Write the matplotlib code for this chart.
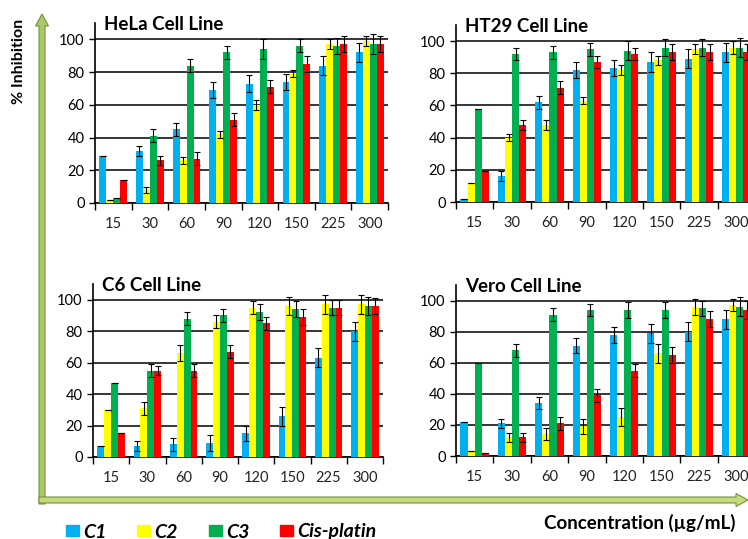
import numpy as np
import matplotlib.pyplot as plt
from matplotlib.patches import Patch, FancyArrow

plt.rcParams['font.family'] = ['Lato', 'DejaVu Sans']

conc = ["15", "30", "60", "90", "120", "150", "225", "300"]
series = ["C1", "C2", "C3", "Cis-platin"]
colors = ["#00B0F0", "#FFFF00", "#00B050", "#FF0000"]

# % inhibition, one list per compound (order: C1, C2, C3, Cis-platin)
hela = [[29, 32, 45, 69, 73, 74, 84, 92],
        [2, 8, 26, 42, 60, 79, 97, 99],
        [3, 41, 84, 92, 94, 96, 96, 97],
        [14, 26, 27, 51, 71, 85, 97, 97]]
hela_err = [[0, 3, 4, 5, 5, 5, 6, 6],
            [0, 2, 2, 2, 3, 2, 3, 3],
            [0, 4, 4, 4, 6, 4, 5, 6],
            [0, 3, 4, 4, 4, 5, 5, 5]]

ht29 = [[2, 16, 62, 82, 83, 87, 89, 93],
        [12, 40, 48, 63, 82, 88, 95, 96],
        [58, 92, 93, 95, 94, 96, 96, 96],
        [19, 48, 71, 87, 92, 93, 93, 93]]
ht29_err = [[0, 3, 4, 5, 5, 6, 6, 6],
            [0, 2, 3, 2, 3, 3, 3, 4],
            [0, 4, 4, 4, 6, 5, 5, 6],
            [0, 3, 4, 4, 4, 5, 5, 5]]

c6 = [[7, 7, 8, 9, 15, 26, 63, 80],
      [30, 31, 66, 86, 95, 96, 97, 97],
      [47, 55, 88, 90, 92, 94, 95, 96],
      [15, 55, 55, 67, 85, 89, 95, 96]]
c6_err = [[0, 3, 4, 5, 5, 6, 6, 6],
          [0, 4, 5, 4, 4, 6, 6, 6],
          [0, 4, 4, 4, 5, 5, 5, 6],
          [0, 3, 4, 4, 4, 5, 5, 5]]

vero = [[22, 21, 34, 71, 78, 79, 80, 88],
        [3, 12, 14, 19, 25, 66, 96, 97],
        [60, 68, 91, 94, 94, 94, 95, 96],
        [2, 12, 21, 39, 55, 65, 88, 94]]
vero_err = [[0, 3, 4, 5, 5, 6, 6, 6],
            [0, 3, 4, 5, 6, 6, 5, 4],
            [0, 4, 4, 4, 5, 5, 5, 6],
            [0, 3, 4, 4, 4, 5, 5, 6]]

panels = [("HeLa Cell Line", hela, hela_err, [95, 23, 293, 180]),
          ("HT29 Cell Line", ht29, ht29_err, [456, 25, 299, 177]),
          ("C6 Cell Line", c6, c6_err, [93, 284, 290, 173]),
          ("Vero Cell Line", vero, vero_err, [456, 285, 299, 171])]

W, H = 748, 539
fig = plt.figure(figsize=(W / 100, H / 100), dpi=100)

# background layer with the green arrows, in pixel units
bg = fig.add_axes([0, 0, 1, 1], zorder=0)
bg.set_xlim(0, W)
bg.set_ylim(H, 0)
bg.axis('off')
bg.add_patch(FancyArrow(42, 504, 0, -490, width=6, head_width=13, head_length=12,
                        length_includes_head=True, fc="#A8C96A", ec="#76923C", lw=0.8))
bg.add_patch(FancyArrow(39, 500, 709, 0, width=6, head_width=13, head_length=12,
                        length_includes_head=True, fc="#C4DA7E", ec="#76923C", lw=0.8))

x = np.arange(len(conc))
w = 0.19
for title, vals, errs, (px, py, pw, ph) in panels:
    ax = fig.add_axes([px / W, 1 - (py + ph) / H, pw / W, ph / H], zorder=2)
    ax.patch.set_alpha(0)
    for i in range(4):
        ax.bar(x + (i - 1.5) * w, vals[i], w, color=colors[i], zorder=3,
               yerr=errs[i], error_kw=dict(ecolor="black", elinewidth=0.8, capsize=2, capthick=0.8))
    ax.set_xlim(-0.5, len(conc) - 0.5)
    ax.set_ylim(0, 110)
    ax.set_yticks(range(0, 101, 20))
    ax.grid(axis='y', color='black', lw=1.1, zorder=1)
    ax.set_xticks(x)
    ax.set_xticklabels(conc)
    ax.set_xticks(np.arange(-0.5, len(conc)), minor=True)
    ax.tick_params(axis='x', which='major', length=0, pad=10, labelsize=10.5, colors='#222222')
    ax.tick_params(axis='x', which='minor', length=5, width=1, color='black')
    ax.tick_params(axis='y', length=4, width=1, labelsize=10.5, colors='black')
    for s in ['top', 'right']:
        ax.spines[s].set_visible(False)
    ax.spines['left'].set_linewidth(1.2)
    ax.spines['bottom'].set_linewidth(1.2)
    ax.text(0.03, 0.99, title, transform=ax.transAxes, fontsize=13.5, fontweight='bold',
            va='center', ha='left')

fig.text(19 / W, 1 - 61 / H, "% Inhibition", rotation=90, ha='center', va='center',
         fontsize=11.5, fontweight='bold')
fig.text(736 / W, 1 - 523 / H, "Concentration (µg/mL)", ha='right', va='center',
         fontsize=13.5, fontweight='bold')

handles = [Patch(color=c) for c in colors]
fig.legend(handles, series, loc='center left', bbox_to_anchor=(66 / W, 1 - 532 / H), ncol=4,
           frameon=False, prop=dict(weight='bold', style='italic', size=14),
           borderpad=0, borderaxespad=0,
           handlelength=0.67, handleheight=0.5, handletextpad=0.2, columnspacing=1.6)

fig.savefig("out.png", dpi=100)
